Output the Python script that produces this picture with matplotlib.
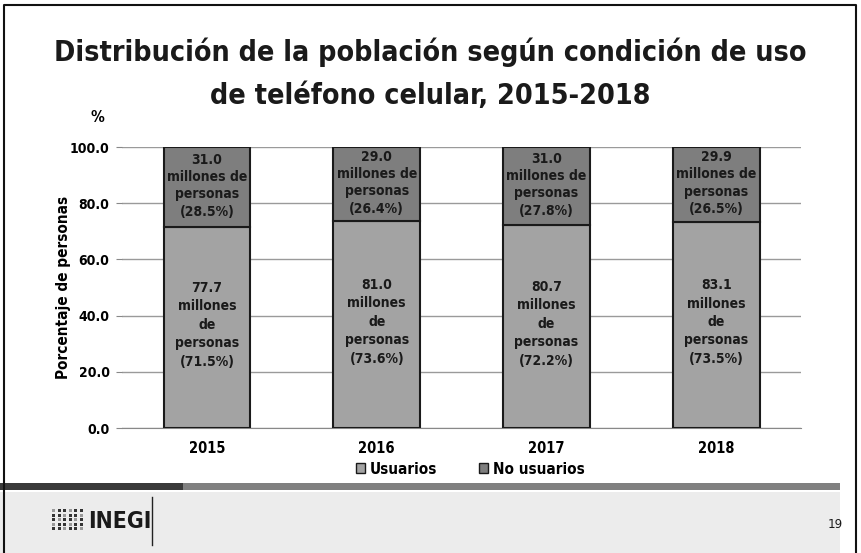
import numpy as np
import matplotlib.pyplot as plt
from matplotlib.patches import Rectangle
from matplotlib.lines import Line2D

# Data
years = ["2015", "2016", "2017", "2018"]
usuarios_pct = [71.5, 73.6, 72.2, 73.5]
no_usuarios_pct = [28.5, 26.4, 27.8, 26.5]
usuarios_mill = [77.7, 81.0, 80.7, 83.1]
no_usuarios_mill = [31.0, 29.0, 31.0, 29.9]
yticks = [0, 20, 40, 60, 80, 100]

plt.rcParams['font.family'] = ['DejaVu Sans']
plt.rcParams['font.stretch'] = 'condensed'

c_us = "#a3a3a3"
c_no = "#7e7e7e"

fig = plt.figure(figsize=(8.61, 5.53), dpi=100)
ax = fig.add_axes([0.1417, 0.226, 0.789, 0.508])

x = np.arange(len(years))
w = 0.51
ax.bar(x, usuarios_pct, w, color=c_us, edgecolor="#1a1a1a", linewidth=1.5, zorder=3)
ax.bar(x, no_usuarios_pct, w, bottom=usuarios_pct, color=c_no, edgecolor="#1a1a1a",
       linewidth=1.5, zorder=3)

for i in range(len(years)):
    ax.text(x[i], usuarios_pct[i] / 2 + 1,
            f"{usuarios_mill[i]:.1f}\nmillones\nde\npersonas\n({usuarios_pct[i]:.1f}%)",
            ha="center", va="center", fontsize=10, fontweight="bold",
            color="#1a1a1a", linespacing=1.4, zorder=4)
    ax.text(x[i], usuarios_pct[i] + no_usuarios_pct[i] / 2 + 0.5,
            f"{no_usuarios_mill[i]:.1f}\nmillones de\npersonas\n({no_usuarios_pct[i]:.1f}%)",
            ha="center", va="center", fontsize=10, fontweight="bold",
            color="#1a1a1a", linespacing=1.3, zorder=4)

ax.set_xlim(-0.5, len(years) - 0.5)
ax.set_ylim(0, 100)
ax.set_yticks(yticks)
ax.set_yticklabels([f"{v:.1f}" for v in yticks], fontsize=10, fontweight="bold")
ax.set_xticks(x)
ax.set_xticklabels(years, fontsize=10.5, fontweight="bold")
ax.tick_params(axis="x", length=0, pad=9)
ax.tick_params(axis="y", length=4, color="#888888", pad=5)
ax.yaxis.grid(True, color="#9a9a9a", linewidth=1, zorder=0)
for s in ["top", "right", "left"]:
    ax.spines[s].set_visible(False)
ax.spines["bottom"].set_color("#888888")
ax.set_ylabel("Porcentaje de personas", fontsize=11, fontweight="bold", labelpad=-1)
fig.text(97 / 861, 1 - 118 / 553, "%", fontsize=11, fontweight="bold", ha="center", va="center")

# Title
fig.text(0.5, 1 - 52 / 553, "Distribución de la población según condición de uso",
         fontsize=20.5, fontweight="bold", ha="center", va="center", color="#1a1a1a")
fig.text(0.5, 1 - 96 / 553, "de teléfono celular, 2015-2018",
         fontsize=20.5, fontweight="bold", ha="center", va="center", color="#1a1a1a")

# Legend
handles = [Rectangle((0, 0), 1, 1, facecolor=c_us, edgecolor="#1a1a1a"),
           Rectangle((0, 0), 1, 1, facecolor=c_no, edgecolor="#1a1a1a")]
fig.legend(handles, ["Usuarios", "No usuarios"], loc="center", ncol=2,
           bbox_to_anchor=(0.546, 1 - 469 / 553), frameon=False,
           prop={"weight": "bold", "size": 11, "stretch": "condensed"},
           handlelength=0.6, handleheight=0.6, handletextpad=0.3, columnspacing=2.75)

# Footer decoration
fig.patches.append(Rectangle((0, 0), 840 / 861, (553 - 492) / 553,
                             transform=fig.transFigure, facecolor="#ececec",
                             edgecolor="none", zorder=0))
fig.patches.append(Rectangle((0, 1 - 490 / 553), 183 / 861, 7 / 553,
                             transform=fig.transFigure, facecolor="#3a3a3a",
                             edgecolor="none"))
fig.patches.append(Rectangle((183 / 861, 1 - 490 / 553), (840 - 183) / 861, 7 / 553,
                             transform=fig.transFigure, facecolor="#808080",
                             edgecolor="none"))
fig.lines.append(Line2D([152 / 861, 152 / 861], [1 - 545 / 553, 1 - 497 / 553],
                        transform=fig.transFigure, color="#222222", linewidth=1))
fig.text(88 / 861, 1 - 522 / 553, "INEGI", fontsize=16.5, fontweight="bold",
         ha="left", va="center", color="#1a1a1a")
# small dot pattern of the logo
for r in range(5):
    for c in range(6):
        fig.patches.append(Rectangle(((52 + c * 5.5) / 861, 1 - (512 + r * 4.5) / 553),
                                     3 / 861, 3 / 553, transform=fig.transFigure,
                                     facecolor="#333333" if (r + c) % 3 else "#999999",
                                     edgecolor="none"))
fig.text(835 / 861, 1 - 524 / 553, "19", fontsize=9.5, ha="center", va="center",
         color="#1a1a1a")

# frame
fig.lines.append(Line2D([4 / 861, 4 / 861, 856 / 861, 856 / 861],
                        [0, 1 - 5 / 553, 1 - 5 / 553, 0],
                        transform=fig.transFigure, color="#111111", linewidth=1.5))

fig.savefig("out.png", dpi=100, facecolor="white")
